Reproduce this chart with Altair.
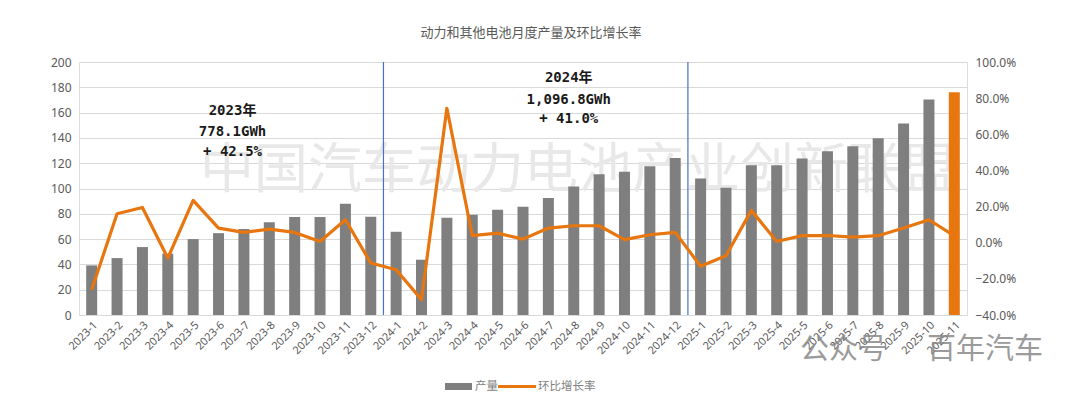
import altair as alt
import pandas as pd

# ---------------- data ----------------
months = [
    "2023-1", "2023-2", "2023-3", "2023-4", "2023-5", "2023-6", "2023-7", "2023-8",
    "2023-9", "2023-10", "2023-11", "2023-12",
    "2024-1", "2024-2", "2024-3", "2024-4", "2024-5", "2024-6", "2024-7", "2024-8",
    "2024-9", "2024-10", "2024-11", "2024-12",
    "2025-1", "2025-2", "2025-3", "2025-4", "2025-5", "2025-6", "2025-7", "2025-8",
    "2025-9", "2025-10", "2025-11",
]
output_gwh = [
    39.2, 45.0, 53.7, 48.5, 60.0, 64.7, 68.0, 73.4, 77.4, 77.4, 87.9, 77.6,
    65.8, 43.7, 76.8, 79.2, 83.2, 85.5, 92.4, 101.6, 111.3, 113.2, 117.6, 124.2,
    107.9, 100.5, 118.4, 118.4, 123.7, 129.5, 133.4, 139.7, 151.3, 170.3, 176.1,
]
mom_growth_pct = [
    -26.0, 16.0, 19.5, -8.5, 23.4, 8.1, 5.7, 7.5, 5.7, 0.7, 12.7, -11.2,
    -15.0, -31.5, 74.4, 3.9, 5.3, 2.0, 8.1, 9.4, 9.4, 1.7, 4.4, 5.7,
    -13.0, -7.2, 17.9, 0.7, 3.9, 4.0, 3.1, 3.9, 8.1, 12.7, 3.8,
]
highlight_month = "2025-11"
boundary_months = ["2024-1", "2025-1"]

ann_2023_lines = ["2023年", "778.1GWh", "+ 42.5%"]
ann_2023_y = [161, 145, 129]
ann_2023_month = "2023-6"
ann_2024_lines = ["2024年", "1,096.8GWh", "+ 41.0%"]
ann_2024_y = [187, 170, 155]
ann_2024_month = "2024-8"

title_text = "动力和其他电池月度产量及环比增长率"
legend_labels = ["产量", "环比增长率"]
left_ticks = [0, 20, 40, 60, 80, 100, 120, 140, 160, 180, 200]
right_ticks = [-40, -20, 0, 20, 40, 60, 80, 100]
watermark_text = "中国汽车动力电池产业创新联盟"
watermark2_a = "公众号"
watermark2_b = "百年汽车"

# ---------------- style ----------------
W, H = 888, 253
GRAY = "#7f7f7f"
ORANGE = "#E8760F"
LABEL = "#595959"
GRID = "#d9d9d9"

df = pd.DataFrame({"month": months, "output": output_gwh, "growth": mom_growth_pct})

xscale = alt.Scale(domain=months, paddingInner=0, paddingOuter=0)
x_axis = alt.Axis(
    title=None, labelAngle=-45, labelFontSize=11, labelColor=LABEL,
    labelFont="Noto Sans", ticks=False, domain=True, domainColor=GRID,
    labelPadding=4,
)
xenc = alt.X("month:N", scale=xscale, axis=x_axis)
left_scale = alt.Scale(domain=[0, 200], nice=False, zero=True)
left_axis = alt.Axis(
    title=None, values=left_ticks, grid=True, gridColor=GRID,
    domain=False, ticks=False, labelPadding=8, labelFontSize=12,
    labelColor=LABEL, labelFont="Noto Sans",
)

one = pd.DataFrame({"a": [0]})

watermark = alt.Chart(pd.DataFrame({"t": [watermark_text]})).mark_text(
    fontSize=54, color="#e8e8e8", align="left", baseline="middle",
    font="Noto Sans CJK SC",
).encode(text="t:N", x=alt.value(121), y=alt.value(110))

bars = alt.Chart(df).mark_bar(size=11).encode(
    x=xenc,
    y=alt.Y("output:Q", scale=left_scale, axis=left_axis),
    color=alt.condition(f"datum.month == '{highlight_month}'", alt.value(ORANGE), alt.value(GRAY)),
)

rules = alt.Chart(pd.DataFrame({"month": boundary_months})).mark_rule(
    color="#4472C4", strokeWidth=1.2
).encode(x=alt.X("month:N", scale=xscale, axis=x_axis, bandPosition=0))


def ann_layer(lines, yvals, month, dx):
    d = pd.DataFrame({"month": [month] * len(lines), "v": yvals, "t": lines})
    return alt.Chart(d).mark_text(
        dx=dx, fontSize=14, font="DejaVu Sans Mono, Noto Sans CJK SC",
        fontWeight="bold", color="#1a1a1a", baseline="middle",
    ).encode(
        x=xenc,
        y=alt.Y("v:Q", scale=left_scale, axis=left_axis),
        text="t:N",
    )


ann23 = ann_layer(ann_2023_lines, ann_2023_y, ann_2023_month, 14)
ann24 = ann_layer(ann_2024_lines, ann_2024_y, ann_2024_month, -5)

leg_rect = alt.Chart(one).mark_rect(color=GRAY).encode(
    x=alt.value(366), x2=alt.value(393), y=alt.value(321), y2=alt.value(328)
)
leg_line = alt.Chart(one).mark_rule(color=ORANGE, strokeWidth=3).encode(
    x=alt.value(419), x2=alt.value(457), y=alt.value(324.5)
)
leg_t1 = alt.Chart(pd.DataFrame({"t": [legend_labels[0]]})).mark_text(
    align="left", baseline="middle", fontSize=11.5, color=GRAY, font="Noto Sans CJK SC"
).encode(text="t:N", x=alt.value(396), y=alt.value(324.5))
leg_t2 = alt.Chart(pd.DataFrame({"t": [legend_labels[1]]})).mark_text(
    align="left", baseline="middle", fontSize=11.5, color=GRAY, font="Noto Sans CJK SC"
).encode(text="t:N", x=alt.value(459), y=alt.value(324.5))

wm2a = alt.Chart(pd.DataFrame({"t": [watermark2_a]})).mark_text(
    align="left", baseline="middle", fontSize=29, color="#8a8a8a", opacity=0.85,
    font="Noto Sans CJK SC",
).encode(text="t:N", x=alt.value(721), y=alt.value(288))
wm2b = alt.Chart(pd.DataFrame({"t": [watermark2_b]})).mark_text(
    align="left", baseline="middle", fontSize=29, color="#8a8a8a", opacity=0.85,
    font="Noto Sans CJK SC",
).encode(text="t:N", x=alt.value(848), y=alt.value(288))

left = alt.layer(watermark, bars, rules, ann23, ann24,
                 leg_rect, leg_line, leg_t1, leg_t2, wm2a, wm2b)

line = alt.Chart(df).mark_line(color=ORANGE, strokeWidth=3.2, strokeJoin="round").encode(
    x=xenc,
    y=alt.Y(
        "growth:Q", scale=alt.Scale(domain=[-40, 100], nice=False, zero=False),
        axis=alt.Axis(
            orient="right", title=None, values=right_ticks, grid=False,
            labelExpr="format(datum.value, '.1f') + '%'", domain=False,
            ticks=False, labelPadding=8, labelFontSize=12, labelColor=LABEL,
            labelFont="Noto Sans",
        ),
    ),
)

chart = alt.layer(left, line).resolve_scale(y="independent").properties(
    width=W, height=H,
    title=alt.TitleParams(
        title_text, fontSize=13, color=LABEL, font="Noto Sans CJK SC",
        fontWeight="normal", anchor="middle", offset=16, dx=8,
    ),
    autosize=alt.AutoSizeParams(type="none"),
    padding={"left": 71, "top": 54, "right": 95, "bottom": 78},
).configure_view(stroke=None).configure(background="white")

chart.save("out.html", embed_options={"renderer": "svg", "actions": False})
